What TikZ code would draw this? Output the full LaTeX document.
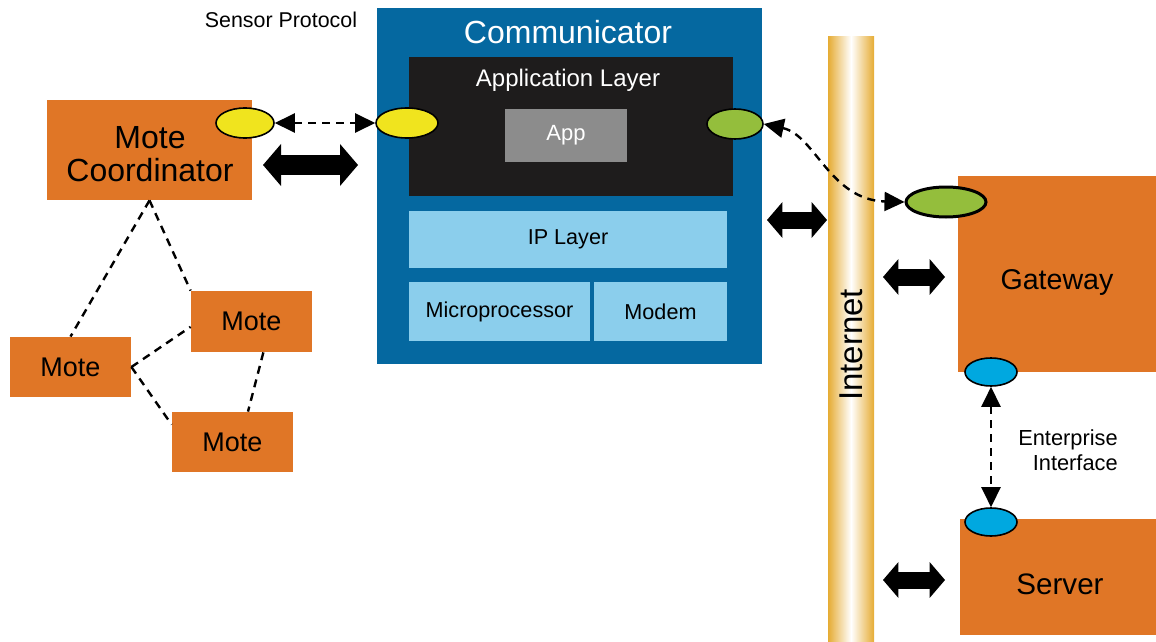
\documentclass[tikz,border=0pt]{standalone}
\usepackage{fontspec}
\setmainfont{Liberation Sans}
\usetikzlibrary{arrows.meta,shapes.geometric,positioning}

\definecolor{moteorange}{RGB}{224,118,38}
\definecolor{commblue}{RGB}{5,104,160}
\definecolor{layerblue}{RGB}{139,206,236}
\definecolor{applayer}{RGB}{30,28,28}
\definecolor{appgray}{RGB}{140,140,140}
\definecolor{portyellow}{RGB}{240,228,30}
\definecolor{portgreen}{RGB}{148,190,60}
\definecolor{portcyan}{RGB}{0,168,224}
\definecolor{inetgold}{RGB}{230,172,52}

\tikzset{
	box/.style={rectangle, inner sep=0pt, fill=#1},
	port/.style={ellipse, draw=black, line width=0.8pt, fill=#1, inner sep=0pt},
	link/.style={dash pattern=on 4pt off 3pt, line width=1.2pt},
	sig/.style={link, arrows={Triangle[length=10pt,width=9.5pt]-Triangle[length=10pt,width=9.5pt]}},
	bus/.style={line width=#1, arrows={Triangle[length=0pt 0.9,width=0pt 2.1,line width=0pt]-Triangle[length=0pt 0.9,width=0pt 2.1,line width=0pt]}},
	bus/.default=8.5pt,
	fs/.style={font=\fontsize{#1}{#1}\selectfont},
}

\begin{document}
\begin{tikzpicture}[x=0.5pt,y=-0.5pt]
	\useasboundingbox (0,0) rectangle (1156,642);

	\node[box=commblue, minimum width=192.5pt, minimum height=178pt] (comm) at (569.5,186) {};
	\node[white, fs=16pt] (commtitle) at (568,32) {Communicator};
	\node[box=applayer, minimum width=162pt, minimum height=69.5pt] (appl) at (571,126.5) {};
	\node[white, fs=12pt] (appltitle) at (568,80) {Application Layer};
	\node[box=appgray, minimum width=61pt, minimum height=26.5pt, text=white, fs=11pt] (app) at (566,135.5) {App};
	\node[box=layerblue, minimum width=159pt, minimum height=28.5pt, fs=10.8pt] (ip) at (568,239) {IP Layer};
	\node[box=layerblue, minimum width=90.5pt, minimum height=29.5pt, fs=10.8pt] (micro) at (499.5,311.5) {Microprocessor};
	\node[box=layerblue, minimum width=66.5pt, minimum height=29.5pt, fs=10.8pt] (modem) at (660.5,311.5) {Modem};
	\node[fs=10.7pt] (proto) at (281,20) {Sensor Protocol};

	\node[box=moteorange, minimum width=102.5pt, minimum height=50pt] (coord) at (149.5,150) {};
	\node[fs=16pt, align=center] (coordtext) at (150,154) {Mote\\[0.5pt]Coordinator};
	\node[box=moteorange, minimum width=60.5pt, minimum height=30.5pt, fs=13.5pt] (mote1) at (251.5,321.5) {Mote};
	\node[box=moteorange, minimum width=60.5pt, minimum height=30pt, fs=13.5pt] (mote2) at (70.5,367) {Mote};
	\node[box=moteorange, minimum width=60.5pt, minimum height=30pt, fs=13.5pt] (mote3) at (232.5,442) {Mote};

	\node[rectangle, inner sep=0pt, minimum width=23pt, minimum height=302.5pt, left color=inetgold, right color=inetgold, middle color=white] (inet) at (851,339.5) {};
	\node[rotate=90, fs=16.5pt] (inettext) at (851,345) {Internet};

	\node[box=moteorange, minimum width=99pt, minimum height=98pt] (gate) at (1057,274) {};
	\node[fs=14.3pt] (gatetext) at (1057,282) {Gateway};
	\node[box=moteorange, minimum width=98pt, minimum height=58pt] (serv) at (1058,577) {};
	\node[fs=14.8pt] (servtext) at (1060,584) {Server};
	\node[fs=10.9pt, align=right] (ent) at (1068,450) {Enterprise\\[1.5pt]Interface};

	\node[port=portyellow, minimum width=29pt, minimum height=15pt] (ycoord) at (245,123) {};
	\node[port=portyellow, minimum width=31pt, minimum height=15pt] (ycomm) at (407,123) {};
	\node[port=portgreen, minimum width=28pt, minimum height=15pt] (gcomm) at (735,124) {};
	\node[port=portgreen, minimum width=40pt, minimum height=15pt, line width=1.5pt] (ggate) at (946,202) {};
	\node[port=portcyan, minimum width=26pt, minimum height=14pt] (bgate) at (991,372) {};
	\node[port=portcyan, minimum width=26pt, minimum height=14pt] (bserv) at (991,522) {};

	\draw[sig] (ycoord) -- (ycomm);
	\draw[sig] (gcomm.east) .. controls (815,135) and (830,200) .. (ggate.west);
	\draw[sig] (bgate) -- (bserv);

	\draw[link] (coord.south) -- (mote2.north);
	\draw[link] (coord.south) -- (mote1.north west);
	\draw[link] (mote2.east) -- (mote1.185);
	\draw[link] (mote2.east) -- (mote3.164);
	\draw[link] (mote1.291) -- (mote3.63);

	\coordinate (cw) at (263,165);
	\coordinate (ce) at (358,165);
	\coordinate (iw) at (767,220);
	\coordinate (ie) at (827,220);
	\coordinate (gw) at (883,277);
	\coordinate (ge) at (945,277);
	\coordinate (sw) at (883,580);
	\coordinate (se) at (945,580);
	\draw[bus=10pt] (cw) -- (ce);
	\draw[bus] (iw) -- (ie);
	\draw[bus] (gw) -- (ge);
	\draw[bus] (sw) -- (se);
\end{tikzpicture}
\end{document}
